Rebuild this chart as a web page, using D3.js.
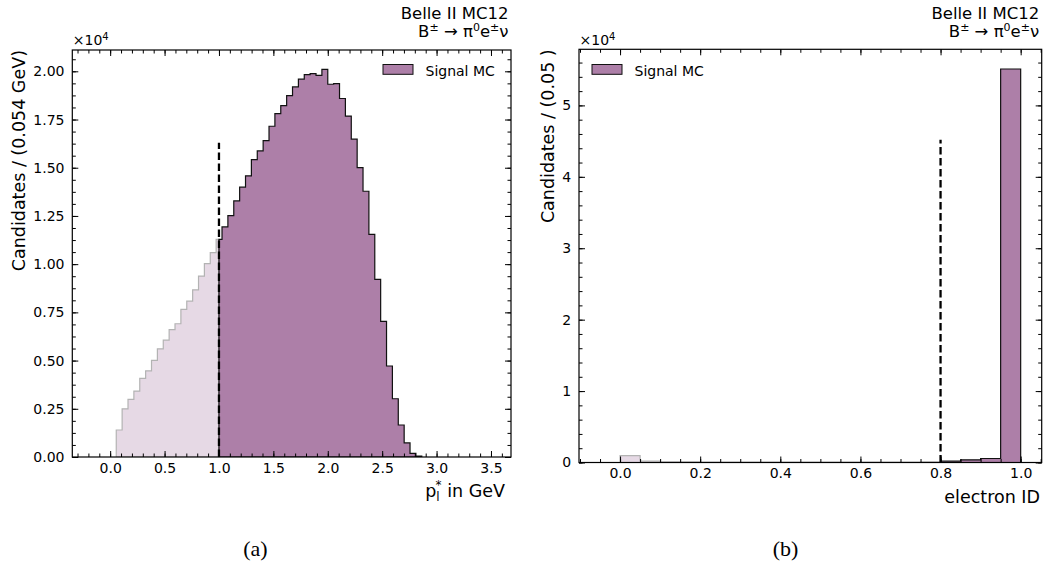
<!DOCTYPE html>
<html>
<head>
<meta charset="utf-8">
<script src="https://cdn.jsdelivr.net/npm/d3@7"></script>
<style>
  body { margin: 0; background: #fff; }
  svg { display: block; }
  text { font-family: "DejaVu Sans", sans-serif; fill: #000; }
  text.caption { font-family: "Liberation Serif", "Times New Roman", serif; }
</style>
</head>
<body>
<svg id="fig" width="1047" height="567"></svg>
<script>
// ---------- (a) lepton momentum p*_l ----------
const pBinStart = 0.056;
const pBinWidth = 0.054;
const pCounts = [
  1400, 2500, 2990, 3420, 4080, 4470, 5010, 5610, 6060, 6610, 6910, 7650,
  8080, 8670, 9380, 10030, 10600, 11280,
  11930, 12520, 13280, 13990, 14580, 15420, 15870, 16410, 17150, 17810,
  18220, 18740, 19190, 19590, 19830, 19880, 19790, 20100, 19330, 19360,
  18590, 17680, 16480, 15010,
  13780, 11540, 9210, 7030, 4720, 3020, 1660, 730, 190, 50
];
const pCut = 1.0;
const pCutLineTop = 16300;
const pXLim = [-0.348, 3.684];
const pXTicks = [0, 0.5, 1.0, 1.5, 2.0, 2.5, 3.0, 3.5];
const pYTicks = [0, 2500, 5000, 7500, 10000, 12500, 15000, 17500, 20000];

// ---------- (b) electron ID ----------
const eBinStart = -0.05;
const eBinWidth = 0.05;
const eCounts = [
  0, 950, 180, 100, 80, 70, 60, 60, 50, 50, 50, 50, 50, 60, 60, 70, 80,
  180, 370, 560, 55100
];
const eCut = 0.8;
const eCutLineTop = 45200;
const eXLim = [-0.1025, 1.0525];
const eXTicks = [0, 0.2, 0.4, 0.6, 0.8, 1.0];
const eYTicks = [0, 10000, 20000, 30000, 40000, 50000];

// ---------- shared text ----------
const experimentLabel = "Belle II MC12";
const legendLabel = "Signal MC";
const captions = ["(a)", "(b)"];

const COLOR = "#ad7fa8";
const COLOR_LIGHT = "#e6d9e5";
const EDGE_LIGHT = "#b3b3b3";

const svg = d3.select("#fig");
svg.append("rect").attr("width", 1047).attr("height", 567).attr("fill", "#fff");

// Build a closed step outline for bins restricted to [lo, hi]
function stepPoints(start, width, counts, lo, hi) {
  const pts = [];
  counts.forEach((c, i) => {
    const a = Math.max(start + i * width, lo);
    const b = Math.min(start + (i + 1) * width, hi);
    if (b <= a) return;
    if (pts.length === 0) pts.push([a, 0]);
    pts.push([a, c], [b, c]);
  });
  if (pts.length) pts.push([pts[pts.length - 1][0], 0]);
  return pts;
}

function panel(cfg) {
  const g = svg.append("g");
  const x = d3.scaleLinear().domain(cfg.xlim).range([cfg.x0, cfg.x1]);
  const yTop = d3.max(cfg.counts) * 1.05;
  const y = d3.scaleLinear().domain([0, yTop]).range([cfg.y1, cfg.y0]);
  const line = d3.line().x(d => x(d[0])).y(d => y(d[1]));

  const clip = "clip" + cfg.id;
  svg.append("clipPath").attr("id", clip)
    .append("rect").attr("x", cfg.x0).attr("y", cfg.y0)
    .attr("width", cfg.x1 - cfg.x0).attr("height", cfg.y1 - cfg.y0);
  const plot = g.append("g").attr("clip-path", `url(#${clip})`);

  const lightPts = stepPoints(cfg.start, cfg.width, cfg.counts, -Infinity, cfg.cut);
  const darkPts = stepPoints(cfg.start, cfg.width, cfg.counts, cfg.cut, Infinity);

  plot.append("path").attr("d", line(lightPts) + "Z")
    .attr("fill", COLOR_LIGHT).attr("stroke", EDGE_LIGHT).attr("stroke-width", 1.2)
    .attr("stroke-linejoin", "miter");
  plot.append("path").attr("d", line(darkPts) + "Z")
    .attr("fill", COLOR).attr("stroke", "#111").attr("stroke-width", 1.2)
    .attr("stroke-linejoin", "miter");

  // selection cut
  plot.append("path")
    .attr("d", line([[cfg.cut, 0], [cfg.cut, cfg.cutTop]]))
    .attr("stroke", "#000").attr("stroke-width", 2.3)
    .attr("stroke-dasharray", "7.6,3.4").attr("fill", "none");

  // ticks on all four sides, pointing inward
  const minorX = d3.range(Math.ceil(cfg.xlim[0] / cfg.xMinor), Math.floor(cfg.xlim[1] / cfg.xMinor) + 1)
    .map(k => +(k * cfg.xMinor).toFixed(6));
  const minorY = d3.range(0, Math.floor(yTop / cfg.yMinor) + 1).map(k => k * cfg.yMinor);

  const mk = (axisFn, scale, vals, size, fmt, pad, tx, ty) => {
    const a = axisFn(scale).tickValues(vals).tickSize(size).tickPadding(pad)
      .tickFormat(fmt);
    const ag = g.append("g").attr("transform", `translate(${tx},${ty})`).call(a);
    ag.select(".domain").remove();
    ag.selectAll(".tick line").attr("stroke", "#000").attr("stroke-width", 1);
    ag.selectAll("text").attr("font-size", 14).attr("font-family", "DejaVu Sans").attr("fill", "#000");
    return ag;
  };
  const none = () => "";
  mk(d3.axisBottom, x, minorX, -3.5, none, 0, 0, cfg.y1);
  mk(d3.axisBottom, x, cfg.xTicks, -6, cfg.xFmt, 6, 0, cfg.y1);
  mk(d3.axisTop, x, minorX, -3.5, none, 0, 0, cfg.y0);
  mk(d3.axisTop, x, cfg.xTicks, -6, none, 0, 0, cfg.y0);
  mk(d3.axisLeft, y, minorY, -3.5, none, 0, cfg.x0, 0);
  mk(d3.axisLeft, y, cfg.yTicks, -6, cfg.yFmt, 7.8, cfg.x0, 0);
  mk(d3.axisRight, y, minorY, -3.5, none, 0, cfg.x1, 0);
  mk(d3.axisRight, y, cfg.yTicks, -6, none, 0, cfg.x1, 0);

  g.append("rect").attr("x", cfg.x0).attr("y", cfg.y0)
    .attr("width", cfg.x1 - cfg.x0).attr("height", cfg.y1 - cfg.y0)
    .attr("fill", "none").attr("stroke", "#000").attr("stroke-width", 1.2);

  // scale factor above the y axis
  const off = g.append("text").attr("x", cfg.x0 + 0.5).attr("y", 45).attr("font-size", 14);
  off.append("tspan").text("\u00d710");
  off.append("tspan").attr("dy", -5).attr("font-size", 10).text("4");

  // experiment / channel label
  const tx = cfg.x1 - 2.5;
  g.append("text").attr("x", tx).attr("y", 19).attr("text-anchor", "end")
    .attr("font-size", 16.5).text(experimentLabel);
  const ch = g.append("text").attr("x", tx).attr("y", 36.5).attr("text-anchor", "end")
    .attr("font-size", 16.5);
  ch.append("tspan").text("B");
  ch.append("tspan").attr("dy", -5.5).attr("font-size", 11).text("\u00b1");
  ch.append("tspan").attr("dy", 5.5).text(" \u2192 \u03c0");
  ch.append("tspan").attr("dy", -5.5).attr("font-size", 11).text("0");
  ch.append("tspan").attr("dy", 5.5).text("e");
  ch.append("tspan").attr("dy", -5.5).attr("font-size", 11).text("\u00b1");
  ch.append("tspan").attr("dy", 5.5).text("\u03bd");

  // legend
  g.append("rect").attr("x", cfg.legX).attr("y", 64.5).attr("width", 30).attr("height", 9.8)
    .attr("fill", COLOR).attr("stroke", "#111").attr("stroke-width", 1);
  g.append("text").attr("x", cfg.legX + 42.5).attr("y", 76).attr("font-size", 14).text(legendLabel);

  // axis titles
  g.append("text").attr("transform", `translate(${cfg.yLabX},${cfg.y0}) rotate(-90)`)
    .attr("text-anchor", "end").attr("font-size", 17.5).text(cfg.yLabel);
  const xl = g.append("text").attr("x", cfg.xLabX).attr("y", cfg.y1 + 40)
    .attr("text-anchor", "end").attr("font-size", 17.5);
  cfg.xLabel(xl);

  // sub-figure caption
  svg.append("text").attr("class", "caption").attr("x", cfg.capX).attr("y", 556)
    .attr("text-anchor", "middle").attr("font-size", 22).text(cfg.caption);
}

panel({
  id: "a", x0: 72.3, x1: 511, y0: 50, y1: 457,
  xlim: pXLim, start: pBinStart, width: pBinWidth, counts: pCounts,
  cut: pCut, cutTop: pCutLineTop,
  xTicks: pXTicks, yTicks: pYTicks, xMinor: 0.1, yMinor: 625,
  xFmt: d3.format(".1f"), yFmt: d => (d / 1e4).toFixed(2),
  legX: 383, yLabX: 25, xLabX: 505,
  yLabel: "Candidates / (0.054 GeV)",
  xLabel: t => {
    t.append("tspan").text("p");
    t.append("tspan").attr("dy", 4).attr("font-size", 12).text("l");
    t.append("tspan").attr("dx", -4).attr("dy", -12).attr("font-size", 12).text("*");
    t.append("tspan").attr("dy", 8).text(" in GeV");
  },
  capX: 255.5, caption: captions[0]
});

panel({
  id: "b", x0: 579, x1: 1041.7, y0: 49.3, y1: 462.5,
  xlim: eXLim, start: eBinStart, width: eBinWidth, counts: eCounts,
  cut: eCut, cutTop: eCutLineTop,
  xTicks: eXTicks, yTicks: eYTicks, xMinor: 0.05, yMinor: 2000,
  xFmt: d3.format(".1f"), yFmt: d => String(d / 1e4),
  legX: 592, yLabX: 554, xLabX: 1040,
  yLabel: "Candidates / (0.05 )",
  xLabel: t => t.text("electron ID"),
  capX: 785.5, caption: captions[1]
});
</script>
</body>
</html>
